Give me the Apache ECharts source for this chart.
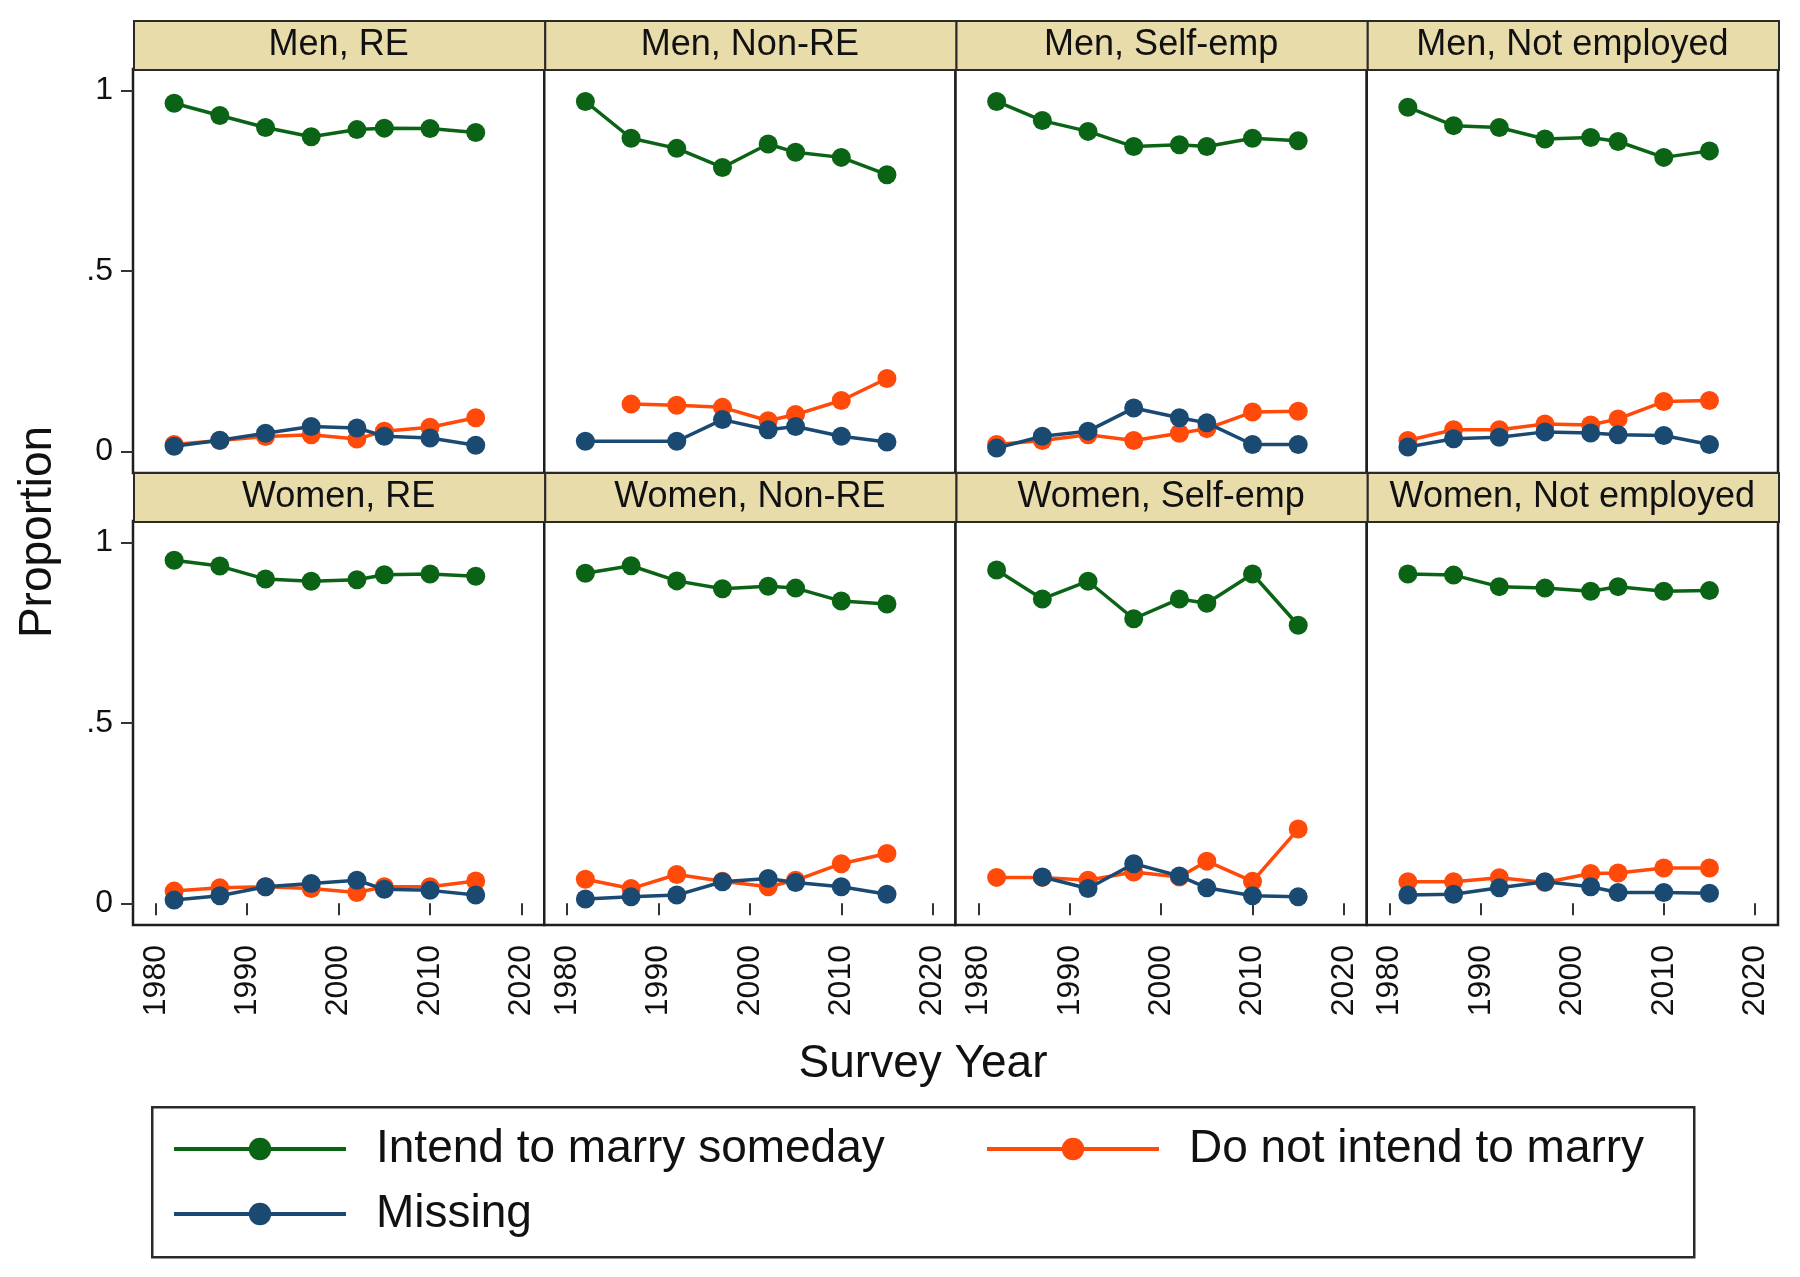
<!DOCTYPE html>
<html><head><meta charset="utf-8">
<script src="https://cdn.jsdelivr.net/npm/echarts@6/dist/echarts.min.js"></script>
<style>html,body{margin:0;padding:0;background:#fff}#c{width:1800px;height:1277px}</style>
</head><body><div id="c"></div>
<script>
const years = [1982, 1987, 1992, 1997, 2002, 2005, 2010, 2015];
const xTicks = [1980, 1990, 2000, 2010, 2020];
const yTicks = [0, 0.5, 1];
const yTickLabels = ['0', '.5', '1'];
const panelTitles = ['Men, RE', 'Men, Non-RE', 'Men, Self-emp', 'Men, Not employed',
  'Women, RE', 'Women, Non-RE', 'Women, Self-emp', 'Women, Not employed'];
const seriesNames = ['Intend to marry someday', 'Do not intend to marry', 'Missing'];
const xTitle = 'Survey Year';
const yTitle = 'Proportion';

// Men, RE
const intendMenRE    = [0.965, 0.931, 0.898, 0.872, 0.892, 0.896, 0.895, 0.884];
const notIntendMenRE = [0.019, 0.030, 0.041, 0.046, 0.034, 0.056, 0.067, 0.093];
const missingMenRE   = [0.014, 0.031, 0.050, 0.069, 0.065, 0.042, 0.037, 0.017];
// Men, Non-RE
const intendMenNonRE    = [0.970, 0.868, 0.840, 0.787, 0.852, 0.829, 0.815, 0.767];
const notIntendMenNonRE = [null, 0.131, 0.128, 0.122, 0.085, 0.102, 0.141, 0.202];
const missingMenNonRE   = [0.028, null, 0.028, 0.088, 0.060, 0.069, 0.042, 0.026];
// Men, Self-emp
const intendMenSelf    = [0.970, 0.917, 0.887, 0.845, 0.850, 0.845, 0.868, 0.861];
const notIntendMenSelf = [0.019, 0.030, 0.046, 0.030, 0.050, 0.063, 0.109, 0.111];
const missingMenSelf   = [0.009, 0.042, 0.056, 0.120, 0.093, 0.079, 0.019, 0.019];
// Men, Not employed
const intendMenNotEmp    = [0.954, 0.903, 0.898, 0.866, 0.870, 0.859, 0.815, 0.833];
const notIntendMenNotEmp = [0.030, 0.060, 0.060, 0.076, 0.073, 0.090, 0.138, 0.141];
const missingMenNotEmp   = [0.012, 0.035, 0.039, 0.054, 0.051, 0.046, 0.044, 0.019];
// Women, RE
const intendWomenRE    = [0.951, 0.935, 0.899, 0.893, 0.897, 0.911, 0.913, 0.907];
const notIntendWomenRE = [0.034, 0.043, 0.046, 0.041, 0.030, 0.046, 0.046, 0.062];
const missingWomenRE   = [0.009, 0.021, 0.046, 0.055, 0.064, 0.039, 0.036, 0.023];
// Women, Non-RE
const intendWomenNonRE    = [0.915, 0.936, 0.894, 0.872, 0.879, 0.874, 0.838, 0.830];
const notIntendWomenNonRE = [0.067, 0.041, 0.080, 0.061, 0.046, 0.064, 0.110, 0.138];
const missingWomenNonRE   = [0.012, 0.018, 0.023, 0.060, 0.069, 0.058, 0.046, 0.025];
// Women, Self-emp
const intendWomenSelf    = [0.924, 0.844, 0.893, 0.789, 0.844, 0.832, 0.913, 0.771];
const notIntendWomenSelf = [0.072, 0.072, 0.064, 0.087, 0.073, 0.117, 0.061, 0.206];
const missingWomenSelf   = [null, 0.073, 0.041, 0.110, 0.076, 0.043, 0.021, 0.018];
// Women, Not employed
const intendWomenNotEmp    = [0.913, 0.910, 0.878, 0.874, 0.865, 0.878, 0.865, 0.867];
const notIntendWomenNotEmp = [0.060, 0.060, 0.071, 0.058, 0.083, 0.084, 0.098, 0.098];
const missingWomenNotEmp   = [0.023, 0.025, 0.043, 0.060, 0.046, 0.030, 0.030, 0.028];

const panelValues = [
  [intendMenRE, notIntendMenRE, missingMenRE],
  [intendMenNonRE, notIntendMenNonRE, missingMenNonRE],
  [intendMenSelf, notIntendMenSelf, missingMenSelf],
  [intendMenNotEmp, notIntendMenNotEmp, missingMenNotEmp],
  [intendWomenRE, notIntendWomenRE, missingWomenRE],
  [intendWomenNonRE, notIntendWomenNonRE, missingWomenNonRE],
  [intendWomenSelf, notIntendWomenSelf, missingWomenSelf],
  [intendWomenNotEmp, notIntendWomenNotEmp, missingWomenNotEmp]
];

const colors = ['#0b6415', '#ff4a0a', '#1a4a72'];
const FONT = '"Liberation Sans", Arial, Helvetica, sans-serif';

const gridLeft0 = 133, panelW = 411.25, panelH = 404;
const rowTop = [69, 521];
const stripTop = [20, 472];
const stripH = 49;

const grids = [], xAxes = [], yAxes = [], series = [], graphics = [];
for (let p = 0; p < 8; p++) {
  const r = Math.floor(p / 4), c = p % 4;
  const left = gridLeft0 + c * panelW;
  grids.push({
    left: left, top: rowTop[r], width: panelW, height: panelH,
    show: true, borderColor: '#1e1e1e', borderWidth: 2.5, backgroundColor: '#fff'
  });
  xAxes.push({
    type: 'value', gridIndex: p, min: 1977.5, max: 2022.5,
    axisLine: { show: false },
    splitLine: { show: false },
    axisTick: { show: r === 1, length: 12, inside: false, customValues: xTicks,
      lineStyle: { color: '#333', width: 2 } },
    axisLabel: { show: r === 1, customValues: xTicks, rotate: 90, margin: 20,
      fontSize: 32, color: '#111', fontFamily: FONT,
      formatter: function (v) { return String(Math.round(v)); } }
  });
  yAxes.push({
    type: 'value', gridIndex: p, min: -0.06, max: 1.06,
    axisLine: { show: false },
    splitLine: { show: false },
    axisTick: { show: c === 0, length: 12, customValues: yTicks,
      lineStyle: { color: '#333', width: 2 } },
    axisLabel: { show: c === 0, customValues: yTicks, margin: 20,
      fontSize: 32, color: '#111', fontFamily: FONT,
      formatter: function (v) { const i = yTicks.indexOf(v); return i >= 0 ? yTickLabels[i] : ''; } }
  });
  for (let s = 0; s < 3; s++) {
    const vals = panelValues[p][s];
    const data = [];
    years.forEach(function (yr, i) { if (vals[i] !== null) data.push([yr, vals[i]]); });
    series.push({
      type: 'line', name: seriesNames[s], xAxisIndex: p, yAxisIndex: p,
      data: data, symbol: 'circle', symbolSize: 19, connectNulls: true,
      itemStyle: { color: colors[s] },
      lineStyle: { color: colors[s], width: 3.5 },
      emphasis: { disabled: true }, animation: false, z: 2 + s
    });
  }
  // strip header
  graphics.push({
    type: 'rect', left: left, top: stripTop[r],
    shape: { x: 0, y: 0, width: panelW, height: stripH },
    style: { fill: '#e8dcab', stroke: '#2a2a2a', lineWidth: 2 }, z: 10
  });
  graphics.push({
    type: 'text', x: left + panelW / 2, y: stripTop[r] + stripH / 2 + 1,
    style: { text: panelTitles[p], fill: '#111', font: '36px ' + FONT,
      textAlign: 'center', textVerticalAlign: 'middle' }, z: 11
  });
}

// axis titles
graphics.push({
  type: 'text', x: 923, y: 1064,
  style: { text: xTitle, fill: '#111', font: '46px ' + FONT, textAlign: 'center', textVerticalAlign: 'middle' }
});
graphics.push({
  type: 'text', x: 38, y: 532, rotation: Math.PI / 2,
  style: { text: yTitle, fill: '#111', font: '46px ' + FONT, textAlign: 'center', textVerticalAlign: 'middle' }
});
// legend box
graphics.push({
  type: 'rect', left: 151, top: 1106,
  shape: { x: 0, y: 0, width: 1542, height: 150 },
  style: { fill: '#fff', stroke: '#2a2a2a', lineWidth: 2.5 }, z: 0
});

function legendAt(name, left, top) {
  return {
    data: [name], left: left, top: top, padding: 0, itemWidth: 172, itemHeight: 28,
    selectedMode: false, z: 20,
    lineStyle: { width: 4 },
    textStyle: { fontSize: 46, color: '#111', fontFamily: FONT, lineHeight: 46, padding: [0, 0, 0, 25] }
  };
}

const chart = echarts.init(document.getElementById('c'), null, { renderer: 'canvas' });
chart.setOption({
  animation: false,
  backgroundColor: '#fff',
  grid: grids, xAxis: xAxes, yAxis: yAxes, series: series,
  legend: [
    legendAt(seriesNames[0], 172, 1126),
    legendAt(seriesNames[1], 985, 1126),
    legendAt(seriesNames[2], 172, 1191)
  ],
  graphic: graphics
});
</script></body></html>
